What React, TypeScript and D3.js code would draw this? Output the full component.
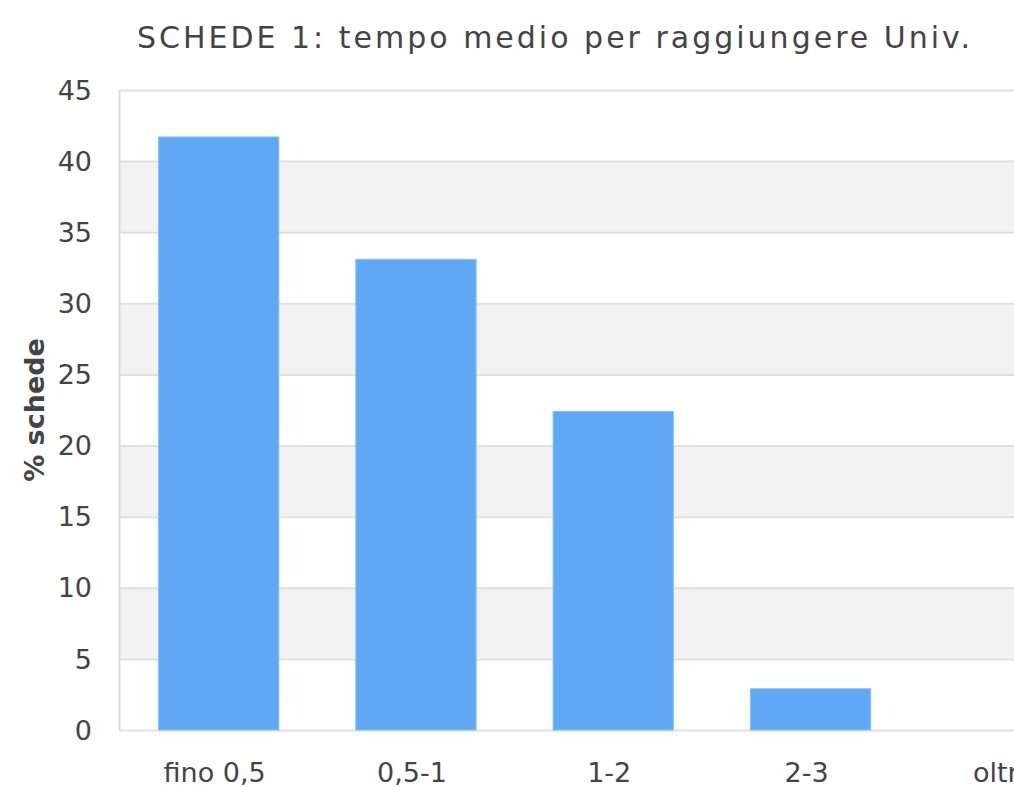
import { useEffect, useRef } from "react";
import * as d3 from "d3";

const categories = ["fino 0,5", "0,5-1", "1-2", "2-3", "oltre"];
const values = [41.7, 33.1, 22.4, 2.9, 0];
const yTicks = [0, 5, 10, 15, 20, 25, 30, 35, 40, 45];

const W = 1014;
const H = 787;
const margin = { left: 120, top: 90, bottom: 57 };

export default function App() {
  const ref = useRef<SVGSVGElement>(null);

  useEffect(() => {
    document.body.style.margin = "0";
    const svg = d3.select(ref.current);
    svg.selectAll("*").remove();

    const y = d3.scaleLinear().domain([0, 45]).range([H - margin.bottom, margin.top]);
    // the last band runs past the right edge, like the original
    const x = d3
      .scaleBand()
      .domain(categories)
      .range([margin.left, margin.left + 5 * 197.3])
      .paddingInner(0.39)
      .paddingOuter(0.195);

    const font = "DejaVu Sans, sans-serif";

    // alternating bands
    svg
      .append("g")
      .selectAll("rect")
      .data(yTicks.filter((t) => t % 10 === 5 && t < 45))
      .join("rect")
      .attr("x", margin.left)
      .attr("width", W - margin.left)
      .attr("y", (d) => y(d + 5))
      .attr("height", (d) => y(d) - y(d + 5))
      .attr("fill", "#f2f2f2");

    // grid lines
    svg
      .append("g")
      .selectAll("line")
      .data(yTicks)
      .join("line")
      .attr("x1", margin.left)
      .attr("x2", W)
      .attr("y1", (d) => y(d) + 0.5)
      .attr("y2", (d) => y(d) + 0.5)
      .attr("stroke", "#e0e0e0")
      .attr("stroke-width", 2);

    svg
      .append("line")
      .attr("x1", margin.left - 0.5)
      .attr("x2", margin.left - 0.5)
      .attr("y1", y(45))
      .attr("y2", y(0) + 1)
      .attr("stroke", "#dcdcdc")
      .attr("stroke-width", 2);

    // bars
    svg
      .append("g")
      .selectAll("rect")
      .data(values.map((v, i) => ({ c: categories[i], v })))
      .join("rect")
      .attr("x", (d) => x(d.c)!)
      .attr("width", x.bandwidth())
      .attr("y", (d) => y(d.v))
      .attr("height", (d) => y(0) - y(d.v))
      .attr("fill", "#60a8f4")
      .attr("stroke", "#8cc0f7")
      .attr("stroke-width", 1);

    // y tick labels
    svg
      .append("g")
      .selectAll("text")
      .data(yTicks)
      .join("text")
      .attr("x", 92)
      .attr("y", (d) => y(d))
      .attr("dy", "0.36em")
      .attr("text-anchor", "end")
      .attr("font-family", font)
      .attr("font-size", 27)
      .attr("fill", "#444")
      .text((d) => d);

    // x labels
    svg
      .append("g")
      .selectAll("text")
      .data(categories)
      .join("text")
      .attr("x", (d) => x(d)! + x.bandwidth() / 2 - 4)
      .attr("y", 782)
      .attr("text-anchor", "middle")
      .attr("font-family", font)
      .attr("font-size", 27)
      .attr("fill", "#444")
      .text((d) => d);

    svg
      .append("text")
      .attr("transform", `translate(44,${(y(0) + y(45)) / 2}) rotate(-90)`)
      .attr("text-anchor", "middle")
      .attr("font-family", font)
      .attr("font-size", 27)
      .attr("font-weight", "bold")
      .attr("fill", "#444")
      .text("% schede");

    svg
      .append("text")
      .attr("x", 555)
      .attr("y", 48)
      .attr("text-anchor", "middle")
      .attr("font-family", font)
      .attr("font-size", 30)
      .attr("letter-spacing", 3)
      .attr("fill", "#444")
      .text("SCHEDE 1: tempo medio per raggiungere Univ.");
  }, []);

  return <svg ref={ref} width={W} height={H} style={{ display: "block", background: "#fff" }} />;
}
